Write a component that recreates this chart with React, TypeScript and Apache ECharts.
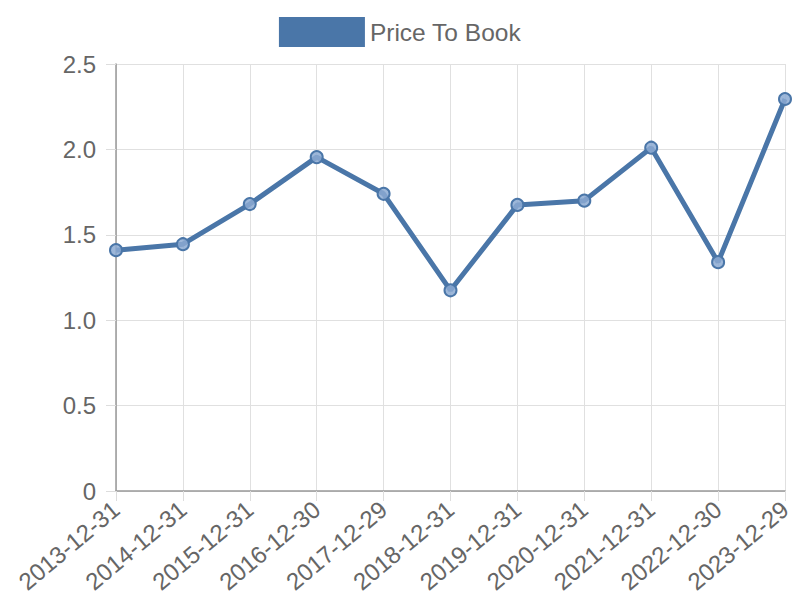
import React, { useEffect, useRef } from "react";
import * as echarts from "echarts";

const categories = [
  "2013-12-31", "2014-12-31", "2015-12-31", "2016-12-30", "2017-12-29", "2018-12-31",
  "2019-12-31", "2020-12-31", "2021-12-31", "2022-12-30", "2023-12-29",
];
const priceToBook = [1.41, 1.445, 1.68, 1.955, 1.74, 1.175, 1.675, 1.7, 2.01, 1.34, 2.295];
const seriesName = "Price To Book";

export default function App() {
  const ref = useRef<HTMLDivElement>(null);
  useEffect(() => {
    if (!ref.current) return;
    const chart = echarts.init(ref.current, undefined, { renderer: "svg" });
    chart.setOption({
      animation: false,
      legend: {
        top: 12,
        left: "center",
        itemWidth: 86,
        itemHeight: 30,
        itemGap: 10,
        icon: "rect",
        textStyle: { fontSize: 24.5, color: "#666", fontFamily: "Liberation Sans" },
        data: [{ name: seriesName, itemStyle: { color: "#4a76a8", borderWidth: 0 } }],
      },
      grid: { left: 116, right: 15, top: 64, bottom: 109 },
      xAxis: {
        type: "category",
        data: categories,
        boundaryGap: false,
        axisLine: { lineStyle: { color: "#999", width: 1.5 } },
        axisTick: { show: true, length: 10, lineStyle: { color: "#ddd" }, alignWithLabel: true },
        splitLine: { show: true, lineStyle: { color: "#e0e0e0", width: 1 } },
        axisLabel: {
          rotate: 40,
          fontSize: 24,
          color: "#666",
          fontFamily: "Liberation Sans",
          margin: 15,
          interval: 0,
        },
      },
      yAxis: {
        type: "value",
        min: 0,
        max: 2.5,
        interval: 0.5,
        axisLine: { show: true, lineStyle: { color: "#999", width: 1.5 } },
        axisTick: { show: true, length: 10, lineStyle: { color: "#ddd" } },
        splitLine: { show: true, lineStyle: { color: "#e0e0e0", width: 1 } },
        axisLabel: {
          fontSize: 24,
          color: "#666",
          fontFamily: "Liberation Sans",
          margin: 20,
          formatter: (v: number) => (v === 0 ? "0" : v.toFixed(1)),
        },
      },
      series: [
        {
          name: seriesName,
          type: "line",
          data: priceToBook,
          symbol: "circle",
          symbolSize: 12,
          lineStyle: { color: "#4a76a8", width: 5 },
          itemStyle: { color: "rgba(140,170,210,0.85)", borderColor: "#4a76a8", borderWidth: 2 },
        },
      ],
    });
    return () => chart.dispose();
  }, []);
  return <div ref={ref} style={{ width: 800, height: 600, position: "absolute", left: 0, top: 0 }} />;
}
